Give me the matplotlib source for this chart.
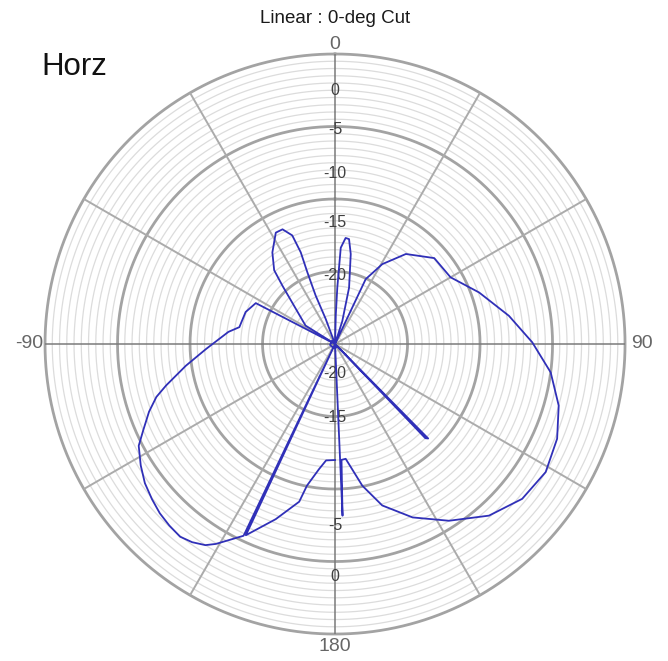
import numpy as np
import matplotlib
matplotlib.use("Agg")
import matplotlib.pyplot as plt

plt.rcParams["font.family"] = ["Liberation Sans", "DejaVu Sans"]

# measured cut, angle in degrees (clockwise from top), linear magnitude (outer ring = 40)
angle_deg = [
    -180, -175.6, -172.7, -168.8, -167.2, -161.3, -155.0, -155.8, -154.5,
    -149.2, -147.2, -144.2, -141.2, -137.6, -134.0, -130.3, -126.2, -122.0, -117.4,
    -114.2, -110.0, -106.5, -103.8, -98.3,
    -92.2, -83.5, -80.0, -70.3, -62.7, -61.5,
    -58.0, -42.1, -39.5, -34.4, -28.0, -24.6, -21.5, -20.5, -21.1, -21.8, -20.4, -18.0,
    -40.0, -100.0, -160.0, 160.0, 0.0,
    1.5, 2.3, 3.4, 5.7, 7.6, 9.9, 14.0, 17.6, 20.0,
    135.4, 136.2, 22.0,
    25.3, 30.6, 38.2, 49.1, 60.0, 70.3, 80.8, 89.5, 97.5, 105.4, 113.1, 121.3,
    129.6, 138.1, 147.2, 155.9, 163.7, 169.1, 174.7, 176.8, 177.5, 178.0,
]
magnitude = [
    16.0, 16.1, 17.4, 19.9, 22.3, 25.5, 29.1, 0.0, 29.3,
    32.1, 33.0, 33.7, 34.1, 33.9, 33.6, 33.1, 32.5, 31.6, 30.5,
    29.0, 27.3, 25.7, 24.0, 20.8,
    17.8, 14.8, 13.4, 13.1, 12.3, 0.0,
    4.8, 10.8, 13.2, 15.3, 17.4, 17.4, 16.1, 13.5, 10.6, 7.2, 3.7, 0.0,
    0.6, 0.7, 0.6, 0.5, 0.0,
    4.1, 7.8, 13.3, 14.7, 14.6, 12.6, 8.0, 3.3, 0.0,
    18.3, 18.0, 0.0,
    9.9, 12.8, 15.8, 18.1, 18.4, 21.1, 24.3, 27.2, 30.0, 32.0, 33.3, 34.0,
    33.5, 31.8, 29.0, 26.2, 23.2, 19.9, 15.9, 16.0, 23.7, 0.0,
]

# dB labels as printed along the 0 / 180 spoke
top_labels = ["0", "-5", "-10", "-15", "-20"]
top_label_r = [35.0, 29.6, 23.5, 16.7, 9.5]
bottom_labels = ["-20", "-15", "-5", "0"]
bottom_label_r = [4.0, 10.2, 25.0, 32.1]

fig = plt.figure(figsize=(6.68, 6.61), dpi=100)
ax = fig.add_axes([0.0674, 0.0408, 0.8683, 0.8775], projection="polar")
ax.set_theta_zero_location("N")
ax.set_theta_direction(-1)
ax.set_ylim(0, 40)
ax.grid(False)
ax.set_xticks([])
ax.set_yticks([])
ax.spines["polar"].set_visible(False)

circ = np.linspace(0, 2 * np.pi, 721)
for r in range(1, 41):
    if r % 10 == 0:
        ax.plot(circ, np.full_like(circ, r), color="#a3a3a3", lw=2.0, zorder=2, clip_on=False)
    else:
        ax.plot(circ, np.full_like(circ, r), color="#dcdcdc", lw=0.9, zorder=1)

for a in range(0, 360, 30):
    t = np.radians(a)
    if a % 90 == 0:
        ax.plot([t, t], [0, 40], color="#7a7a7a", lw=1.1, zorder=3)
    else:
        ax.plot([t, t], [0, 40], color="#ababab", lw=1.4, zorder=3)

for lab, r in zip(top_labels, top_label_r):
    ax.text(0, r, lab, color="#404040", fontsize=11.5, ha="center", va="center", zorder=4)
for lab, r in zip(bottom_labels, bottom_label_r):
    ax.text(np.pi, r, lab, color="#404040", fontsize=11.5, ha="center", va="center", zorder=4)

ax.plot(np.radians(angle_deg), magnitude, color="#3030b8", lw=1.3, zorder=5)

fig.text(0.5015, 0.972, "Linear : 0-deg Cut", ha="center", va="center", fontsize=13.5, color="#1a1a1a")
fig.text(0.062, 0.899, "Horz", ha="left", va="center", fontsize=22.5, color="#111111")
fig.text(0.5015, 0.932, "0", ha="center", va="center", fontsize=14, color="#666666")
fig.text(0.5015, 0.022, "180", ha="center", va="center", fontsize=14, color="#666666")
fig.text(0.0644, 0.4796, "-90", ha="right", va="center", fontsize=14, color="#666666")
fig.text(0.9455, 0.4796, "90", ha="left", va="center", fontsize=14, color="#666666")

fig.savefig("out.png", dpi=100, facecolor="white")
